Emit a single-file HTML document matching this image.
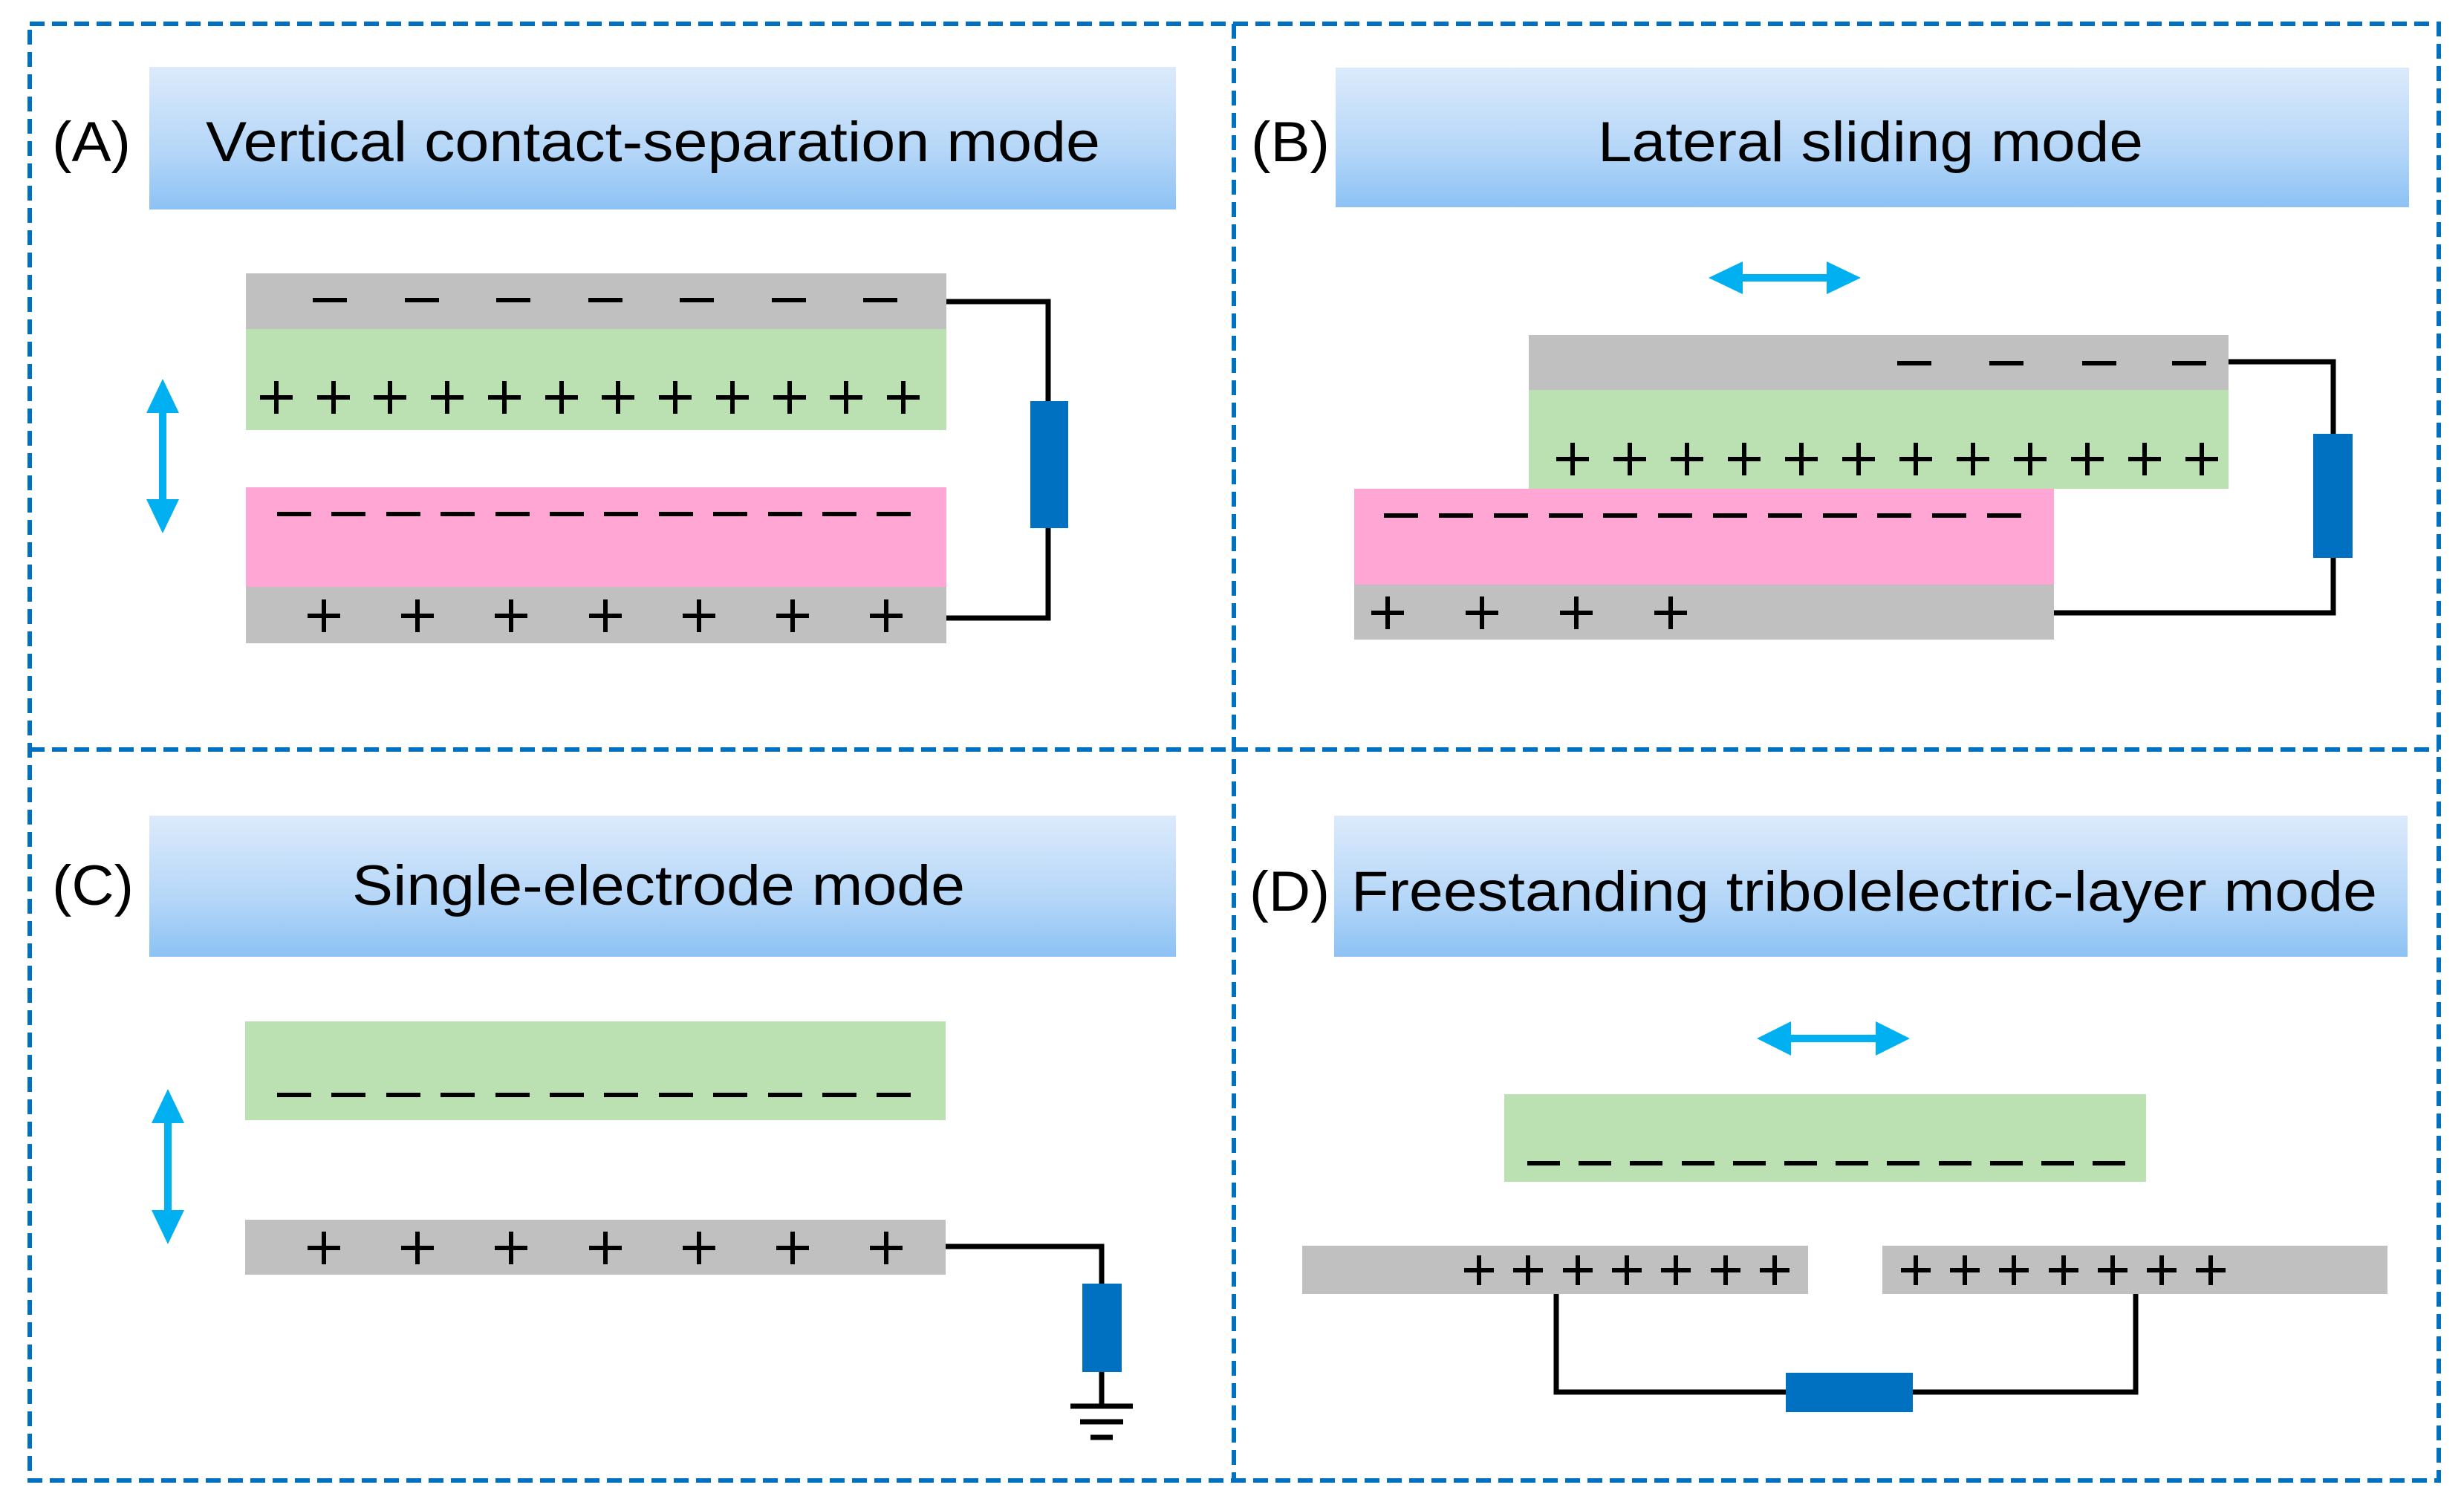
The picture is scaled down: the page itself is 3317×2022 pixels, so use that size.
<!DOCTYPE html>
<html><head><meta charset="utf-8"><style>html,body{margin:0;padding:0;background:#fff}svg{display:block}</style></head>
<body>
<svg width="3317" height="2022" viewBox="0 0 3317 2022" xmlns="http://www.w3.org/2000/svg" font-family="Liberation Sans, sans-serif">
<defs>
<linearGradient id="hg" x1="0" y1="0" x2="0" y2="1"><stop offset="0" stop-color="#dceafb"/><stop offset="0.6" stop-color="#b4d6f8"/><stop offset="1" stop-color="#8cc2f4"/></linearGradient>
</defs>
<g stroke="#0070c0" stroke-width="6" stroke-dasharray="20,10" fill="none">
<rect x="40" y="32" width="3243" height="1961"/>
<line x1="1661" y1="32" x2="1661" y2="1993"/>
<line x1="40" y1="1009" x2="3283" y2="1009"/>
</g>
<rect x="201" y="90" width="1382" height="192" fill="url(#hg)"/>
<rect x="1798" y="91" width="1445" height="188" fill="url(#hg)"/>
<rect x="201" y="1098" width="1382" height="190" fill="url(#hg)"/>
<rect x="1796" y="1098" width="1445" height="190" fill="url(#hg)"/>
<g font-size="76" fill="#000">
<text x="70" y="217" textLength="106" lengthAdjust="spacingAndGlyphs">(A)</text>
<text x="277" y="217" textLength="1204" lengthAdjust="spacingAndGlyphs">Vertical  contact-separation  mode</text>
<text x="1684" y="217" textLength="106" lengthAdjust="spacingAndGlyphs">(B)</text>
<text x="2151" y="217" textLength="734" lengthAdjust="spacingAndGlyphs">Lateral  sliding  mode</text>
<text x="70" y="1218" textLength="110" lengthAdjust="spacingAndGlyphs">(C)</text>
<text x="474" y="1218" textLength="825" lengthAdjust="spacingAndGlyphs">Single-electrode  mode</text>
<text x="1682" y="1226" textLength="108" lengthAdjust="spacingAndGlyphs">(D)</text>
<text x="1819" y="1226" textLength="1381" lengthAdjust="spacingAndGlyphs">Freestanding  tribolelectric-layer  mode</text>
</g>
<rect x="331" y="368" width="943" height="75" fill="#c0c0c0"/>
<rect x="331" y="443" width="943" height="136" fill="#bbe1b3"/>
<rect x="331" y="656" width="943" height="134" fill="#ffa6d4"/>
<rect x="331" y="790" width="943" height="76" fill="#c0c0c0"/>
<polyline points="1274,406 1411,406 1411,832 1274,832" fill="none" stroke="#000" stroke-width="7"/>
<rect x="1387" y="540" width="51" height="171" fill="#0070c0"/>
<polygon points="219,510 241,556 224,556 224,672 241,672 219,718 197,672 214,672 214,556 197,556" fill="#00b0f0"/>
<rect x="2058" y="451" width="942" height="74" fill="#c0c0c0"/>
<rect x="2058" y="525" width="942" height="133" fill="#bbe1b3"/>
<rect x="1823" y="658" width="942" height="129" fill="#ffa6d4"/>
<rect x="1823" y="787" width="942" height="74" fill="#c0c0c0"/>
<polyline points="3000,487 3141,487 3141,825 2765,825" fill="none" stroke="#000" stroke-width="7"/>
<rect x="3114" y="584" width="53" height="167" fill="#0070c0"/>
<polygon points="2300,374 2346,352 2346,369 2459,369 2459,352 2505,374 2459,396 2459,379 2346,379 2346,396" fill="#00b0f0"/>
<rect x="330" y="1375" width="943" height="133" fill="#bbe1b3"/>
<rect x="330" y="1642" width="943" height="74" fill="#c0c0c0"/>
<polyline points="1273,1678 1483,1678 1483,1893" fill="none" stroke="#000" stroke-width="7"/>
<rect x="1457" y="1728" width="53" height="119" fill="#0070c0"/>
<g stroke="#000" stroke-width="7"><line x1="1441" y1="1893" x2="1525" y2="1893"/><line x1="1454" y1="1914" x2="1512" y2="1914"/><line x1="1468" y1="1935" x2="1498" y2="1935"/></g>
<polygon points="226,1466 248,1512 231,1512 231,1629 248,1629 226,1675 204,1629 221,1629 221,1512 204,1512" fill="#00b0f0"/>
<polygon points="2365,1398 2411,1375 2411,1393 2525,1393 2525,1375 2571,1398 2525,1421 2525,1403 2411,1403 2411,1421" fill="#00b0f0"/>
<rect x="2025" y="1473" width="864" height="118" fill="#bbe1b3"/>
<rect x="1753" y="1677" width="681" height="65" fill="#c0c0c0"/>
<rect x="2534" y="1677" width="680" height="65" fill="#c0c0c0"/>
<polyline points="2095,1742 2095,1874 2875,1874 2875,1742" fill="none" stroke="#000" stroke-width="7"/>
<rect x="2404" y="1848" width="171" height="53" fill="#0070c0"/>
<g stroke="#000" stroke-width="6" fill="none">
<path d="M421 404h46M545 404h46M668 404h46M792 404h46M915 404h46M1039 404h46M1162 404h46"/>
<path d="M350 535h44M427 535h44M503 535h44M580 535h44M657 535h44M734 535h44M810 535h44M887 535h44M964 535h44M1041 535h44M1117 535h44M1194 535h44M372 513v44M449 513v44M525 513v44M602 513v44M679 513v44M756 513v44M832 513v44M909 513v44M986 513v44M1063 513v44M1139 513v44M1216 513v44"/>
<path d="M373 692h46M446 692h46M520 692h46M593 692h46M667 692h46M740 692h46M813 692h46M887 692h46M960 692h46M1034 692h46M1107 692h46M1180 692h46"/>
<path d="M414 829h44M540 829h44M666 829h44M793 829h44M919 829h44M1045 829h44M1171 829h44M436 807v44M562 807v44M688 807v44M815 807v44M941 807v44M1067 807v44M1193 807v44"/>
<path d="M2554 489h46M2678 489h46M2803 489h46M2924 489h46"/>
<path d="M2095 618h44M2172 618h44M2249 618h44M2326 618h44M2403 618h44M2480 618h44M2557 618h44M2634 618h44M2711 618h44M2788 618h44M2865 618h44M2942 618h44M2117 596v44M2194 596v44M2271 596v44M2348 596v44M2425 596v44M2502 596v44M2579 596v44M2656 596v44M2733 596v44M2810 596v44M2887 596v44M2964 596v44"/>
<path d="M1863 694h46M1937 694h46M2011 694h46M2085 694h46M2158 694h46M2232 694h46M2306 694h46M2380 694h46M2454 694h46M2527 694h46M2601 694h46M2675 694h46"/>
<path d="M1846 825h44M1973 825h44M2100 825h44M2227 825h44M1868 803v44M1995 803v44M2122 803v44M2249 803v44"/>
<path d="M373 1474h46M446 1474h46M520 1474h46M593 1474h46M667 1474h46M740 1474h46M813 1474h46M887 1474h46M960 1474h46M1034 1474h46M1107 1474h46M1180 1474h46"/>
<path d="M414 1680h44M540 1680h44M666 1680h44M793 1680h44M919 1680h44M1045 1680h44M1171 1680h44M436 1658v44M562 1658v44M688 1658v44M815 1658v44M941 1658v44M1067 1658v44M1193 1658v44"/>
<path d="M2056 1566h44M2125 1566h44M2194 1566h44M2264 1566h44M2333 1566h44M2402 1566h44M2471 1566h44M2540 1566h44M2610 1566h44M2679 1566h44M2748 1566h44M2817 1566h44"/>
<path d="M1971 1710h40M2037 1710h40M2104 1710h40M2170 1710h40M2236 1710h40M2303 1710h40M2369 1710h40M1991 1690v40M2057 1690v40M2124 1690v40M2190 1690v40M2256 1690v40M2323 1690v40M2389 1690v40"/>
<path d="M2559 1710h40M2625 1710h40M2691 1710h40M2758 1710h40M2824 1710h40M2890 1710h40M2956 1710h40M2579 1690v40M2645 1690v40M2711 1690v40M2778 1690v40M2844 1690v40M2910 1690v40M2976 1690v40"/>
</g>
</svg>
</body></html>
